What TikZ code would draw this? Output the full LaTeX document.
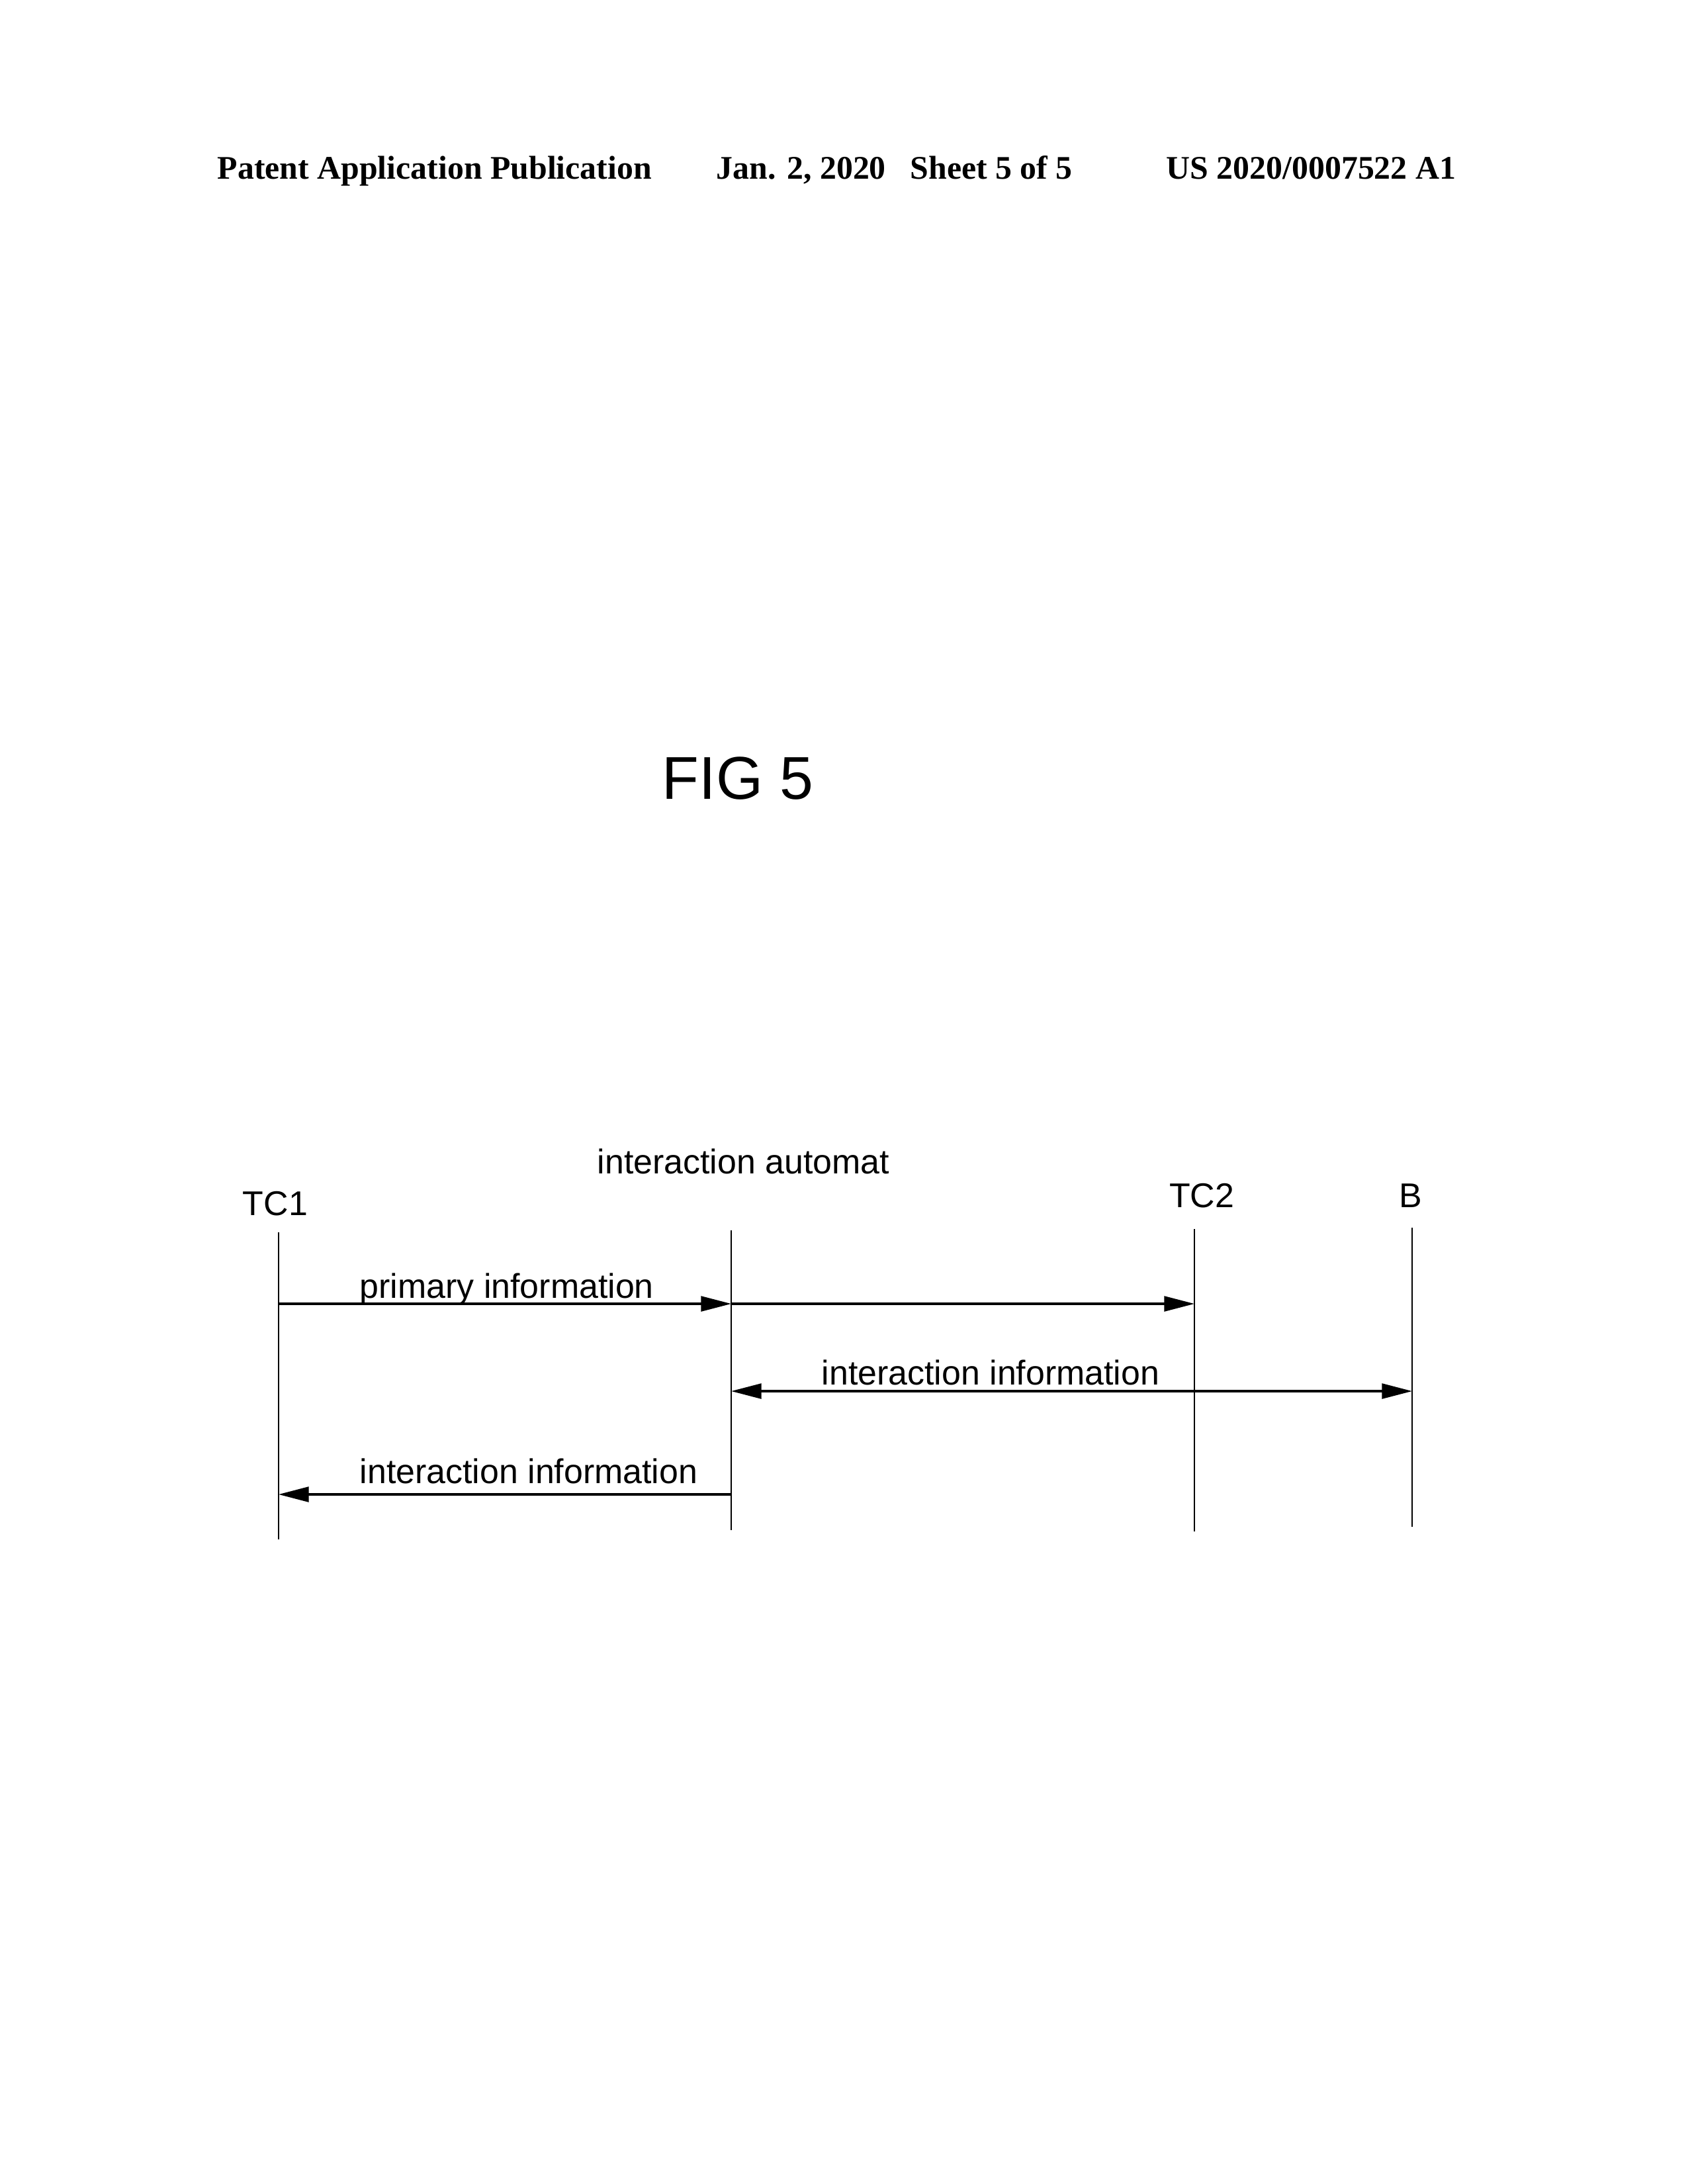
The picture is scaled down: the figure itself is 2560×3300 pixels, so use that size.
\documentclass[tikz,border=0pt]{standalone}
\usepackage{fontspec}
\setmainfont{Liberation Sans}
\newfontfamily\hdrfont{Liberation Serif}
\usetikzlibrary{arrows.meta}

\tikzset{
  life/.style={line width=0.55pt},
  msg/.style={line width=0.75pt},
  hdr/.style={anchor=base west, font=\hdrfont\bfseries\fontsize{12}{14}\selectfont},
  lbl/.style={anchor=base west}
}

\begin{document}
\begin{tikzpicture}[x=0.2409pt, y=-0.2409pt, inner sep=0pt,
    >={Triangle[length=11pt,width=5.5pt]}, font=\fontsize{12.5}{15}\selectfont]
    \useasboundingbox (0,0) rectangle (2560,3300);
    \node[hdr] (pub) at (328,270) {Patent Application Publication};
    \node[hdr] (date) at (1082,270) {Jan. 2, 2020};
    \node[hdr] (sheet) at (1375,270) {Sheet 5 of 5};
    \node[hdr] (pubno) at (1762,270) {US 2020/0007522 A1};
    \node[anchor=base, font=\fontsize{22}{26}\selectfont] (fig) at (1115,1207) {FIG 5};

    \node[anchor=base] (tc1) at (416,1836) {TC1};
    \node[lbl] (automat) at (902,1773) {interaction automat};
    \node[anchor=base] (tc2) at (1816,1824) {TC2};
    \node[anchor=base] (b) at (2132,1824) {B};
    \foreach \n/\x/\t/\b in {tc1/421/1862/2326, ia/1105/1859/2312,
                             tc2/1805/1857/2314, b/2134/1855/2307} {
        \coordinate (\n-top) at (\x,\t);
        \coordinate (\n-bot) at (\x,\b);
        \draw[life] (\n-top) -- (\n-bot);
    }
    \coordinate (m1) at (0,1970); \coordinate (m2) at (0,2102);
    \coordinate (m3) at (0,2258);
    \draw[msg, ->] (tc1-top |- m1) -- (ia-top |- m1);
    \draw[msg, ->] (ia-top |- m1) -- (tc2-top |- m1);
    \draw[msg, <->] (ia-top |- m2) -- (b-top |- m2);
    \draw[msg, ->] (ia-top |- m3) -- (tc1-top |- m3);
    \node[lbl] (prim) at (543,1961) {primary information};
    \node[lbl] (inter1) at (1241,2092) {interaction information};
    \node[lbl] (inter2) at (543,2241) {interaction information};
\end{tikzpicture}
\end{document}
